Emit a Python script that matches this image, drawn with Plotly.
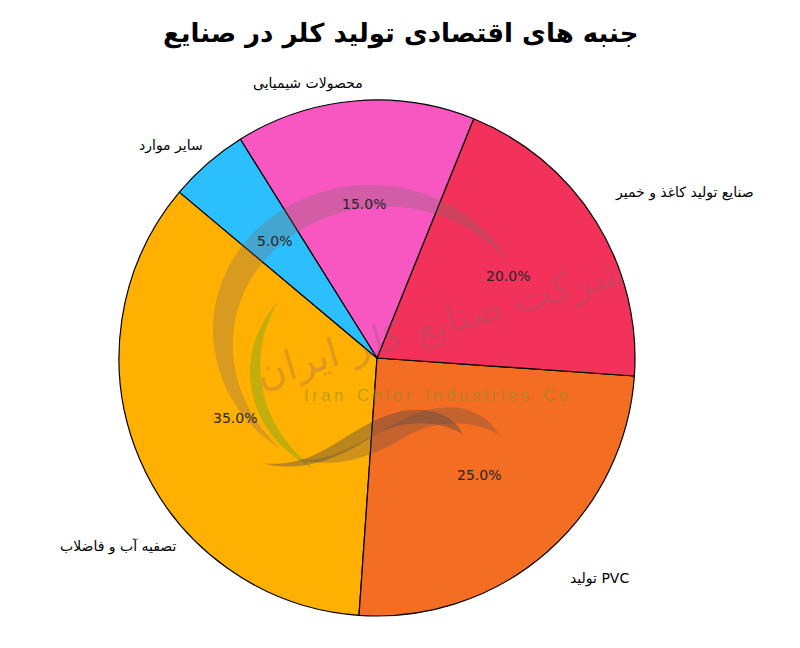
import numpy as np
import plotly.graph_objects as go

# ---- data ----
labels = ["تصفیه آب و فاضلاب", "تولید PVC", "صنایع تولید کاغذ و خمیر", "محصولات شیمیایی", "سایر موارد"]
values = [35, 25, 20, 15, 5]
colors = ["#FFB000", "#F36D22", "#F2325A", "#F857C1", "#2CBFFD"]
title_text = "جنبه های اقتصادی تولید کلر در صنایع"

W, H = 800, 648
OFF = 8  # page body margin offset
CX, CY, R = 377, 358, 258
ML = CX - OFF - R
MT = CY - OFF - R
MR = W - (CX - OFF + R)
MB = H - (CY - OFF + R)
START = 140.0  # degrees, counterclockwise from 3 o'clock

total = float(sum(values))
fr = np.array(values) / total
ends = START + 360 * np.cumsum(fr)
mids = ends - 360 * fr / 2

# plotly (counterclockwise): first slice ends at the rotation line
rot = 90 - (START + 360 * fr[0])
rot = ((rot + 360) % 720) - 360

fig = go.Figure(go.Pie(
    labels=labels, values=values, sort=False, direction="counterclockwise",
    rotation=rot, marker=dict(colors=colors, line=dict(color="black", width=1.2)),
    textinfo="none", hoverinfo="label+percent", showlegend=False,
    domain=dict(x=[0, 1], y=[0, 1]),
))

def pp(x, y):
    x, y = x - OFF, y - OFF
    return (x - ML) / (2 * R), (H - MB - y) / (2 * R)

# label placement tweaks (angle shift in degrees, radial distance) - layout only
label_tweak = [(20.5, 1.06), (0.0, 1.13), (3.0, 1.115), (-2.5, 1.066), (-2.0, 1.06)]

ann = []
for i, (lab, m) in enumerate(zip(labels, mids)):
    a = np.deg2rad(m)
    ann.append(dict(x=0.5 + 0.5 * 0.6 * np.cos(a), y=0.5 + 0.5 * 0.6 * np.sin(a),
                    xref="paper", yref="paper", text=f"{fr[i]*100:.1f}%", showarrow=False,
                    font=dict(family="DejaVu Sans", size=14, color="#262626"),
                    xanchor="center", yanchor="middle"))
    da, d = label_tweak[i]
    la = np.deg2rad(m + da)
    lx, ly = np.cos(la), np.sin(la)
    ann.append(dict(x=0.5 + 0.5 * d * lx, y=0.5 + 0.5 * d * ly, xref="paper", yref="paper",
                    text=lab, showarrow=False,
                    font=dict(family="DejaVu Sans", size=14, color="black"),
                    xanchor="left" if lx > 0 else "right", yanchor="middle"))

# ---- watermark (decoration) ----
shapes = []
def crescent(cx, cy, rx, ry, a0, a1, thick, color, n=80):
    th = np.linspace(np.deg2rad(a0), np.deg2rad(a1), n)
    s = np.linspace(0, 1, n)
    t = thick * np.sin(np.pi * s) ** 0.9
    ox, oy = cx + rx * np.cos(th), cy - ry * np.sin(th)
    ix, iy = cx + (rx - t) * np.cos(th), cy - (ry - t) * np.sin(th)
    pts = list(zip(ox, oy)) + list(zip(ix[::-1], iy[::-1]))
    path = "M " + " L ".join("%.4f,%.4f" % pp(x, y) for x, y in pts) + " Z"
    shapes.append(dict(type="path", path=path, xref="paper", yref="paper",
                       fillcolor=color, line=dict(width=0), layer="above"))

crescent(370, 330, 157, 145, 235, 28, 27, "rgba(125,105,105,0.30)")
crescent(372, 372, 122, 110, 140, 242, 11, "rgba(110,170,30,0.42)")

def swoosh(pts_c, color):
    p0 = pp(*pts_c[0])
    path = "M %.4f,%.4f" % p0
    for k in range(1, len(pts_c), 3):
        seg = [pp(*pts_c[k + j]) for j in range(3)]
        path += " C " + " ".join("%.4f,%.4f" % q for q in seg)
    path += " Z"
    shapes.append(dict(type="path", path=path, xref="paper", yref="paper",
                       fillcolor=color, line=dict(width=0), layer="above"))

swoosh([(262, 463), (330, 472), (360, 405), (425, 410), (447, 413), (460, 425), (462, 434),
        (440, 420), (400, 418), (370, 438), (340, 458), (300, 474), (262, 463)],
       "rgba(80,70,70,0.40)")
swoosh([(300, 460), (360, 462), (400, 400), (460, 408), (480, 412), (495, 425), (498, 434),
        (470, 418), (430, 420), (400, 440), (370, 458), (335, 468), (300, 460)],
       "rgba(90,75,75,0.30)")

tx, ty = pp(436, 395)
ann.append(dict(x=tx, y=ty, xref="paper", yref="paper",
                text="\u2009".join("Iran Chlor Industries Co").replace("\u2009 \u2009", "\u2009\u2009\u2009\u2009"),
                showarrow=False, font=dict(family="Liberation Sans", size=17, color="rgba(135,145,40,0.55)")))
px_, py_ = pp(440, 322)
ann.append(dict(x=px_, y=py_, xref="paper", yref="paper", text="شرکت صنایع کلر ایران",
                showarrow=False, textangle=-16,
                font=dict(family="DejaVu Sans", size=40, color="rgba(140,95,110,0.28)")))

titx, tity = pp(400, 33)
ann.append(dict(x=titx, y=tity, xref="paper", yref="paper", text="<b>" + title_text + "</b>",
                showarrow=False, font=dict(family="DejaVu Sans", size=26, color="black"),
                xanchor="center", yanchor="middle"))

fig.update_layout(width=W, height=H, margin=dict(l=ML, r=MR, t=MT, b=MB, pad=0),
                  paper_bgcolor="white", plot_bgcolor="white",
                  annotations=ann, shapes=shapes)
fig.write_html("out.html")
